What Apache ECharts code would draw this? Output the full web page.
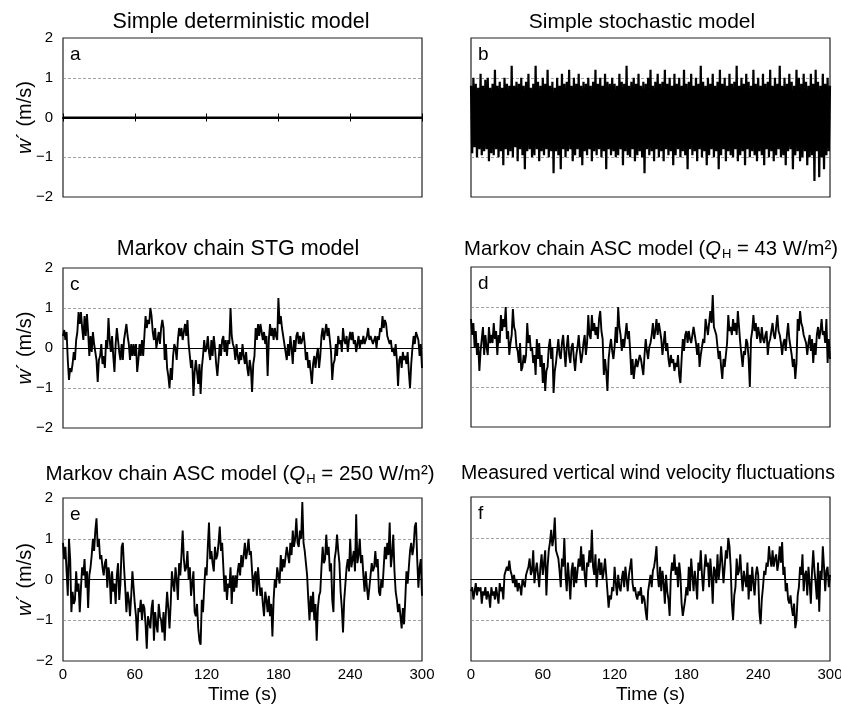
<!DOCTYPE html>
<html>
<head>
<meta charset="utf-8">
<script src="https://cdn.jsdelivr.net/npm/echarts@6/dist/echarts.min.js"></script>
<style>
  html, body { margin: 0; padding: 0; background: #fff; }
  #main { width: 841px; height: 721px; }
</style>
</head>
<body>
<div id="main"></div>
<script>
// time axis ticks (s) and w' ticks (m/s)
const timeTicks = [0, 60, 120, 180, 240, 300];
const wTicks = [-2, -1, 0, 1, 2];

// a: simple deterministic model
const timeA = [0, 60, 120, 180, 240, 300];
const valuesA = [0, 0, 0, 0, 0, 0];

// b..f: one reading per second, t = 0..300
const valuesB = [
  0.8,-0.9,1.0,-0.75,0.85,-1.0,0.75,-0.8,1.1,-0.95,0.8,-0.85,0.95,-0.8,1.0,-1.1,0.75,-0.9,0.85,-0.95,
  1.2,-0.8,0.8,-1.0,0.9,-0.85,0.75,-1.2,1.0,-0.8,0.85,-0.95,0.8,-0.85,1.3,-1.0,0.8,-0.75,0.9,-1.1,
  0.85,-0.8,1.0,-0.95,0.8,-1.3,0.9,-0.85,1.1,-0.8,0.75,-1.0,0.85,-0.95,1.3,-0.8,0.9,-1.1,0.8,-0.85,
  1.0,-0.95,0.85,-0.8,1.2,-1.0,0.8,-0.85,0.9,-1.4,0.75,-0.85,1.0,-0.95,0.8,-1.3,1.1,-0.8,0.85,-1.0,
  0.9,-0.85,1.2,-0.8,0.8,-1.1,1.0,-0.95,0.85,-0.8,1.1,-1.0,0.8,-1.2,0.9,-0.85,0.85,-0.95,1.0,-0.8,
  0.8,-1.1,0.9,-0.85,1.2,-0.95,0.85,-0.8,1.0,-1.0,0.8,-0.85,1.1,-1.3,0.9,-0.8,0.85,-0.95,1.0,-0.85,
  0.85,-1.0,0.8,-0.95,1.1,-0.8,0.9,-1.2,0.85,-0.85,1.3,-0.95,0.8,-1.0,0.9,-0.8,1.0,-1.1,0.85,-0.95,
  1.1,-0.85,0.8,-1.0,0.9,-1.4,0.85,-0.8,1.0,-0.95,1.2,-0.85,0.8,-1.1,0.9,-0.8,1.1,-1.0,0.85,-0.85,
  0.9,-1.1,1.2,-0.8,0.85,-0.95,1.0,-0.85,0.8,-1.2,1.1,-0.95,0.85,-0.8,1.0,-1.0,0.8,-0.85,1.2,-0.95,
  0.85,-1.3,0.9,-0.8,1.1,-0.95,0.8,-0.85,1.0,-1.1,0.85,-0.8,1.3,-1.0,0.9,-0.85,0.8,-1.2,1.0,-0.95,
  0.85,-0.8,1.1,-1.0,0.8,-0.85,0.9,-1.3,1.2,-0.95,0.85,-0.8,1.0,-1.1,0.8,-0.85,1.1,-0.95,0.85,-1.0,
  0.9,-0.8,1.3,-1.1,0.8,-0.95,1.0,-0.85,0.85,-1.2,1.1,-0.8,0.9,-1.0,0.8,-0.85,1.2,-0.95,0.85,-1.1,
  1.0,-0.85,0.8,-0.95,1.1,-1.2,0.85,-0.8,0.9,-1.0,1.2,-0.85,0.8,-1.1,1.0,-0.95,0.85,-0.8,1.3,-1.0,
  0.8,-0.95,1.0,-1.2,0.85,-0.85,1.1,-0.8,0.9,-1.3,0.8,-0.95,1.2,-0.85,1.0,-1.1,0.85,-1.0,1.1,-0.85,
  0.9,-1.2,0.8,-1.0,1.1,-0.95,0.85,-1.6,1.2,-0.85,0.9,-1.5,0.8,-1.0,1.1,-1.3,0.85,-0.95,1.0,-0.85,
  0.8
];
const valuesC = [
  0.3,0.45,0.2,0.4,-0.3,-0.8,-0.5,-0.6,-0.4,-0.1,-0.3,0.2,0.4,0.9,0.6,0.9,0.5,0.2,0.8,0.3,
  0.85,0.4,-0.2,0.3,-0.1,0.4,0.1,-0.1,-0.3,-0.85,-0.3,-0.2,0.1,-0.4,-0.2,-0.5,0.2,0,0.75,0.2,
  -0.1,0.3,-0.2,-0.6,0.1,0.5,0.2,-0.1,-0.3,0.1,-0.3,0.2,0.4,0.6,0.3,0.1,-0.3,0.1,-0.2,0.1,
  -0.2,0.1,-0.6,-0.3,0.1,-0.2,0.2,-0.2,0.3,0.8,0.5,0.7,0.6,1.0,0.8,0.4,0.2,0.5,0,0.2,
  0.4,0.1,0.5,0.7,0.5,-0.3,0.1,-0.5,-0.7,-1.0,-0.5,-0.8,-0.2,0.1,0,-0.3,0.2,0.5,0.3,0.5,
  0.2,0.4,0.6,0.3,0.7,0.1,-0.2,-0.5,-0.3,-1.2,-0.6,-0.3,-0.6,-0.9,-0.4,-1.15,-0.5,-0.2,0.2,-0.1,
  0,0.3,-0.1,-0.3,0.2,-0.2,0.3,0,-0.4,-0.7,-0.3,0.1,-0.2,0.2,0.3,-0.1,0.2,-0.2,0.2,0.1,
  1.0,0.3,0.1,0,-0.3,0.1,-0.2,-0.4,-0.1,-0.3,0.1,-0.2,-0.4,-0.1,-0.5,-0.7,-0.3,-0.5,-1.1,-0.4,
  -0.2,0.5,0.2,0.6,0.3,0.6,0.4,0.2,0.4,0.1,0.3,-0.7,0.2,0.6,0.3,0.5,0.2,0.5,0.3,0.2,
  1.25,0.6,0.8,0.5,0.3,0.1,-0.1,-0.3,0.1,-0.2,0.3,0,-0.4,0.2,-0.1,0.3,0.4,0.1,0.3,0.1,
  0.2,0.4,0.1,-0.3,-0.1,-0.5,-0.3,-0.6,-0.9,-0.4,-0.2,-0.5,-0.2,0,-0.5,-0.2,0.3,0.5,0.2,0.4,
  0.6,0.3,0.5,0.2,-0.1,-0.8,-0.4,-0.3,0.1,-0.2,0.3,0.1,0.2,-0.1,0.5,0.2,0.1,0.3,-0.1,0.2,
  0.4,0.2,0.4,0.1,0.2,-0.1,0.1,0.3,0,0.2,0.1,0.3,0.1,0.2,0.3,0.5,0.2,0.3,0.3,0.1,
  0.1,0.3,0,0.3,0.2,0.5,0.4,0.8,0.5,0.7,0.6,0.3,0.2,0.1,0.2,-0.1,0,-0.2,0.1,-0.3,
  -0.95,-0.3,-0.2,-0.5,-0.1,-0.3,-0.2,-0.4,-0.1,-0.6,-1.0,-0.4,0,0.3,0.1,0.4,0.45,0.2,-0.2,0.1,
  -0.5
];
const valuesD = [
  0.7,0.3,0.6,0,0.4,-0.2,0.1,-0.6,-0.1,0.2,0.5,-0.2,0.3,0,-0.2,0.5,0.1,0.3,0.1,0.6,
  0.2,0.4,-0.2,0.3,0.1,0.8,0.4,0.7,0.5,1.0,0.2,0.4,-0.2,0.1,0.3,0.95,0.5,0.4,0,-0.1,
  -0.4,0.1,-0.6,-0.5,-0.2,-0.4,-0.2,0.6,0.1,0.3,-0.1,0,-0.4,-0.2,-0.7,0.2,-0.3,0.1,-0.5,-0.2,
  -0.9,-0.4,-1.1,-0.6,-0.5,0,0.2,-0.3,0,-1.15,-0.6,-0.4,-0.1,0.2,-0.2,-0.3,0.1,0.3,-0.1,-0.5,
  0,0.3,-0.2,-0.4,0,0.1,-0.3,-0.6,-0.2,0,0.3,-0.1,-0.4,-0.2,0.1,0.3,-0.2,0.1,0.8,0.3,
  0.2,0.8,0.4,0.6,0.3,0.5,0.2,0.7,0.9,0.4,0.2,-0.7,-0.3,-0.6,-1.1,-0.3,0,0.2,-0.1,-0.3,
  0,0.5,0.1,1.0,0.5,0.3,-0.1,0.2,0,0.3,0.6,0.2,0.4,-0.1,-0.7,-0.3,-0.8,-0.5,-0.3,-0.5,
  -0.5,-0.2,-0.3,-0.5,-0.7,-0.2,0.2,-0.1,-0.3,0,0.1,0.3,0.6,0.2,0.4,0.7,0.3,0.6,0.4,0.2,
  -0.2,0.1,0.4,-0.1,0.1,-0.3,-0.5,-0.2,-0.4,-0.3,-0.6,-0.4,-0.5,-0.2,-0.7,-0.9,-0.3,0.2,-0.1,0.3,
  0.4,0.1,0.4,0.2,0.1,0.3,0.5,0.3,0.1,-0.2,0.1,-0.5,-0.2,0,0.2,0.1,0.7,0.5,0.3,0.6,
  0.9,0.6,1.3,0.5,0.4,0.3,0,-0.3,-0.1,-0.5,-0.8,-0.3,-0.5,-0.2,0.1,0.8,0.4,0.5,0.3,0.7,
  0.4,0.6,0.3,0.9,0.5,0.1,-0.2,-0.5,-0.1,-0.2,0.2,0.1,-0.3,-1.0,0.2,0.4,0.8,0.4,0.6,0.2,
  0.5,0.3,0.1,0.5,0.2,0.1,0.3,0.4,-0.2,0.1,0.2,0.4,0.6,0.3,0.2,0.5,0.8,0.4,0.3,0.1,
  -0.2,0.1,0.2,-0.1,0.3,0.6,0.2,0,-0.2,-0.5,-0.3,-0.8,-0.4,0.7,0.4,0.9,0.6,0.5,0.3,0.2,
  0.1,-0.2,0.1,0.3,-0.1,0.2,-0.4,0.1,-0.2,0.3,0.5,0.2,0.4,0.7,0.3,0.4,0.1,0.7,-0.4,0.2,
  -0.3
];
const valuesE = [
  0.9,0.5,0.8,0.2,-0.4,1.0,0.5,-0.8,-0.3,-0.6,-0.5,0.2,-0.3,-0.1,-0.8,-0.2,0.3,0.1,0.5,-0.2,
  0.2,-0.7,0.1,0.3,0.6,1.0,0.7,1.2,1.5,0.8,1.0,0.5,0.6,0.3,0.1,0.4,0.5,-0.2,0.3,0.1,
  -0.6,0.2,-0.3,-0.1,-0.6,0.1,0.4,-0.5,-0.1,0.8,0.9,0.3,-0.2,-0.8,-0.3,-0.5,-0.9,-0.4,0.2,-0.2,
  -0.6,-0.9,-1.5,-0.7,-0.8,-0.5,-1.0,-0.6,-0.7,-1.1,-1.7,-0.9,-0.9,-1.2,-0.7,-0.5,-1.5,-0.8,-1.1,-1.3,
  -0.6,-0.9,-1.0,-1.3,-0.8,-1.5,-0.8,-0.3,-0.7,-1.2,-0.6,0.2,-0.1,-0.3,0.3,0,-0.5,0.4,0.1,0.6,
  1.2,0.5,0.2,0.3,0.7,0,0.3,-0.4,-0.1,0.2,-0.8,-0.9,-0.6,-1.2,-1.5,-1.6,-0.5,-0.8,-0.2,0.3,
  0.1,0.8,1.4,0.5,0.7,0.4,0.2,0.8,0.5,0.6,0.9,1.3,0.7,0.9,0.3,-0.3,0.1,-0.5,-0.1,-0.2,
  0.3,-0.6,0.1,-0.3,0.1,-0.2,0.2,0.4,0.1,0.6,0.3,0.3,0.9,0.5,0.7,1.0,0.6,0.7,0.2,-0.3,
  0.1,0.2,-0.4,0.3,-0.1,-0.4,-0.2,-0.6,-0.9,-0.3,-0.5,-0.8,-0.4,-0.9,-0.6,-1.4,-0.5,0,-0.2,0.3,
  0.1,-0.1,0.6,0.2,0.5,0.3,0.3,0.8,0.6,0.4,0.9,0.6,1.2,0.8,1.0,1.5,0.9,0.8,1.2,1.0,
  1.9,0.9,0.7,0.4,0.1,-0.5,-1.0,-0.4,-0.8,-0.3,-1.0,-0.6,-1.5,-0.7,-0.4,-0.3,0.3,0.8,0.4,0.5,
  1.1,0.6,0.8,0.2,0.4,-0.5,-0.8,0.5,0.7,1.1,0.7,0.4,-0.3,-0.7,-1.3,-0.5,-0.1,0.3,0.5,0.2,
  1.0,0.3,0.5,0.7,0.2,1.6,0.4,0.6,1.0,0.4,0.6,0.1,-0.3,0.2,-0.2,-0.5,-0.2,0.1,0.4,0.2,
  0.3,0.7,0.3,0.5,-0.3,-0.4,0,-0.2,0.3,0.8,0.5,0.9,0.6,1.4,0.3,0.6,1.1,0.2,-0.3,-0.5,
  -0.8,-0.6,-0.9,-1.2,-0.7,-1.1,-0.5,0.2,-0.1,0.3,0.7,0.9,0.6,0.8,1.3,1.4,0.5,-0.2,0.3,0.5,
  -0.4
];
const valuesF = [
  -0.3,-0.2,-0.5,-0.3,-0.1,-0.4,-0.2,-0.3,-0.2,-0.6,-0.3,-0.4,-0.2,-0.5,-0.3,-0.4,-0.7,-0.2,-0.4,-0.3,
  -0.5,-0.2,-0.4,-0.6,-0.1,-0.3,-0.2,-0.5,0.1,0.2,0.3,0.2,0.45,0.2,0.1,-0.1,0.1,-0.2,0,-0.3,
  -0.1,-0.2,-0.4,0,-0.1,-0.2,0.1,0.2,0.3,0.5,0.1,0.2,0.7,-0.1,0.2,0.4,0.1,-0.2,0.3,0.6,
  0.1,0.4,0.7,-0.4,0.3,0.7,0.9,1.2,0.8,1.0,1.5,0.7,0.6,0.5,0.2,-0.2,0.5,0.3,1.0,0.1,
  -0.3,0.4,0,-0.5,0.2,0.4,-0.2,0.3,-0.1,0.2,0.5,0.3,0.8,0.2,0.6,0.1,-0.2,0.4,0.3,0.7,
  0.4,1.2,0.3,0.1,0.6,-0.2,0.2,0.5,0.1,0.4,0,0.2,0.5,0.1,-0.3,-0.7,-0.4,-0.5,-0.2,-0.3,
  0.3,-0.1,-0.4,0.1,-0.2,-0.3,0,0.2,-0.2,0.3,0,-0.3,0.1,0.3,0.5,-0.1,-0.3,-0.2,-0.4,-0.5,
  -0.3,-0.4,-0.2,-0.6,-0.4,-0.5,-0.8,-1.0,-0.3,-0.1,0.1,-0.2,0.2,0.3,0.5,0.8,0.1,-0.2,0.3,-0.3,
  0.2,-0.1,-0.6,0.1,-0.3,-0.5,-0.9,0.1,0.4,0.2,0.6,0.1,0.3,-0.2,0.4,0.1,-0.6,-0.9,-0.7,-0.5,
  -0.2,-0.4,0.3,-0.3,0.5,0.1,-0.3,0.2,-0.1,-0.5,0.4,0.2,0.7,0.1,-0.3,0.2,0.6,0.3,0.4,-0.2,
  0.5,0.1,-0.6,0.3,0.2,-0.1,0.6,0,0.3,0.8,0.4,-0.1,0.3,0.7,0.5,1.0,0.8,0.3,-0.6,-1.0,
  -0.4,-0.2,0.5,0.1,0.2,0.6,0.1,-0.3,0.2,0,-0.2,0.4,-0.5,0.1,-0.3,0.3,-0.1,-0.4,0.1,0.3,
  0.1,-0.8,-1.1,-0.5,-0.2,0.2,0.1,0.4,0.3,0.8,0.5,0.3,0.7,0.3,0.5,0.6,0.2,0.4,0.8,0.4,
  0.9,0.1,0.3,-0.3,-0.1,-0.5,-0.6,-0.4,-0.7,-0.9,-0.6,-1.2,-1.0,-0.4,-0.2,0.3,0.1,0.6,-0.3,0.1,
  0.2,-0.4,0.3,-0.1,-0.6,0.2,0.7,0.2,-0.1,-0.5,0.4,-0.8,0.2,0,0.8,0.3,-0.3,0.2,0.3,-0.2,
  0.1
];

const panelLetters = ['a', 'b', 'c', 'd', 'e', 'f'];
const FONT = '"Liberation Sans", Arial, sans-serif';

const chart = echarts.init(document.getElementById('main'));

const grids = [
  { left: 63, top: 38, width: 359, height: 159 },
  { left: 471, top: 38, width: 359, height: 159 },
  { left: 63, top: 268, width: 359, height: 160 },
  { left: 471, top: 267, width: 359, height: 160 },
  { left: 63, top: 498, width: 359, height: 163 },
  { left: 471, top: 497, width: 359, height: 164 }
];

const toPairs = vals => vals.map((v, i) => [i, v]);
const seriesData = [
  timeA.map((t, i) => [t, valuesA[i]]),
  toPairs(valuesB), toPairs(valuesC), toPairs(valuesD), toPairs(valuesE), toPairs(valuesF)
];

const minus = v => (v < 0 ? '\u2212' + Math.abs(v) : String(v));
const tickStep = timeTicks[1] - timeTicks[0];
const tMax = timeTicks[timeTicks.length - 1];

const xAxes = [];
const yAxes = [];
const series = [];
const seriesX = [];
grids.forEach((g, i) => {
  const bottomRow = i >= 4;
  // frame-bottom axis with the time labels
  xAxes.push({
    gridIndex: i, type: 'value', min: 0, max: tMax, interval: tickStep,
    axisLine: { show: false, onZero: false }, axisTick: { show: false }, splitLine: { show: false },
    axisLabel: { show: bottomRow, margin: 6, fontSize: 15, color: '#000', fontFamily: FONT },
    name: bottomRow ? 'Time (s)' : '', nameLocation: 'middle', nameGap: 24,
    nameTextStyle: { fontSize: 19, color: '#000', fontFamily: FONT }
  });
  // zero line (panel a also gets the small crossing ticks)
  seriesX.push(xAxes.length);
  xAxes.push({
    gridIndex: i, type: 'value', min: 0, max: tMax, interval: tickStep, position: 'bottom',
    axisLine: { show: true, onZero: true, onZeroAxisIndex: i,
      lineStyle: { color: '#000', width: i === 0 ? 2 : 1 } },
    axisTick: i === 0 ? { show: true, inside: false, length: 4, lineStyle: { color: '#000' } } : { show: false },
    axisLabel: { show: false }, splitLine: { show: false }
  });
  const leftCol = i % 2 === 0;
  yAxes.push({
    gridIndex: i, type: 'value', min: wTicks[0], max: wTicks[wTicks.length - 1], interval: 1,
    axisLine: { show: false }, axisTick: { show: false },
    axisLabel: { show: leftCol, formatter: minus, fontSize: 15, color: '#000', fontFamily: FONT, margin: 10 },
    splitLine: { show: true, showMinLine: false, showMaxLine: false,
      lineStyle: { color: '#8a8a8a', type: [3, 2], width: 0.8 } }
  });
});
// upper half of the ticks on panel a's zero line
yAxes.push({ gridIndex: 0, type: 'value', min: wTicks[0], max: wTicks[wTicks.length - 1], show: false });
xAxes.push({
  gridIndex: 0, type: 'value', min: 0, max: tMax, interval: tickStep, position: 'bottom',
  axisLine: { show: false, onZero: true, onZeroAxisIndex: 6 },
  axisTick: { show: true, inside: true, length: 4, lineStyle: { color: '#000' } },
  axisLabel: { show: false }, splitLine: { show: false }
});

grids.forEach((g, i) => {
  series.push({
    type: 'line', xAxisIndex: seriesX[i], yAxisIndex: i,
    data: seriesData[i], showSymbol: false, symbol: 'none', sampling: null,
    lineStyle: { color: '#000', width: i === 0 ? 2 : (i === 1 ? 2.2 : 1.9) }, z: 3
  });
});

const titleStyle = (size, extra) => Object.assign({
  fill: '#000', font: size + 'px ' + FONT, align: 'center', verticalAlign: 'middle',
  textAlign: 'center', textVerticalAlign: 'middle'
}, extra || {});
const richTitle = size => ({
  t: { fontSize: size, fontFamily: FONT, color: '#000' },
  q: { fontSize: size, fontFamily: FONT, fontStyle: 'italic', color: '#000' },
  s: { fontSize: Math.round(size * 0.62), fontFamily: FONT, color: '#000', padding: [11, 0, 0, 1] }
});

const graphics = [
  { type: 'text', x: 241, y: 22, style: titleStyle(21.5, { text: 'Simple deterministic model' }) },
  { type: 'text', x: 642, y: 22, style: titleStyle(21, { text: 'Simple stochastic model' }) },
  { type: 'text', x: 238, y: 249, style: titleStyle(21.5, { text: 'Markov chain STG model' }) },
  { type: 'text', x: 651, y: 249, style: titleStyle(20.3, {
      text: '{t|Markov chain ASC model (}{q|Q}{s|H}{t| = 43 W/m\u00b2)}', rich: richTitle(20.3) }) },
  { type: 'text', x: 240, y: 474, style: titleStyle(20.5, {
      text: '{t|Markov chain ASC model (}{q|Q}{s|H}{t| = 250 W/m\u00b2)}', rich: richTitle(20.5) }) },
  { type: 'text', x: 648, y: 474, style: titleStyle(19.5, { text: 'Measured vertical wind velocity fluctuations' }) }
];
grids.forEach((g, i) => {
  graphics.push({
    type: 'text', x: g.left + 7, y: g.top + 17,
    style: { text: panelLetters[i], fill: '#000', font: '19px ' + FONT,
      align: 'left', verticalAlign: 'middle', textAlign: 'left', textVerticalAlign: 'middle' }
  });
  if (i % 2 === 0) {
    // w' axis title, left column only
    graphics.push({
      type: 'text', x: 25, y: g.top + g.height / 2, rotation: Math.PI / 2,
      style: titleStyle(20, {
        text: '{w|w}{t|\u00b4 (m/s)}',
        rich: {
          w: { fontSize: 21, fontStyle: 'italic', fontFamily: FONT, color: '#000' },
          t: { fontSize: 20, fontFamily: FONT, color: '#000' }
        }
      })
    });
  }
});

chart.setOption({
  animation: false,
  backgroundColor: '#fff',
  grid: grids.map(g => Object.assign({ show: true, borderColor: '#222', borderWidth: 1.2,
    backgroundColor: 'transparent', containLabel: false, outerBoundsMode: 'none' }, g)),
  xAxis: xAxes,
  yAxis: yAxes,
  series: series,
  graphic: graphics
});
</script>
</body>
</html>
